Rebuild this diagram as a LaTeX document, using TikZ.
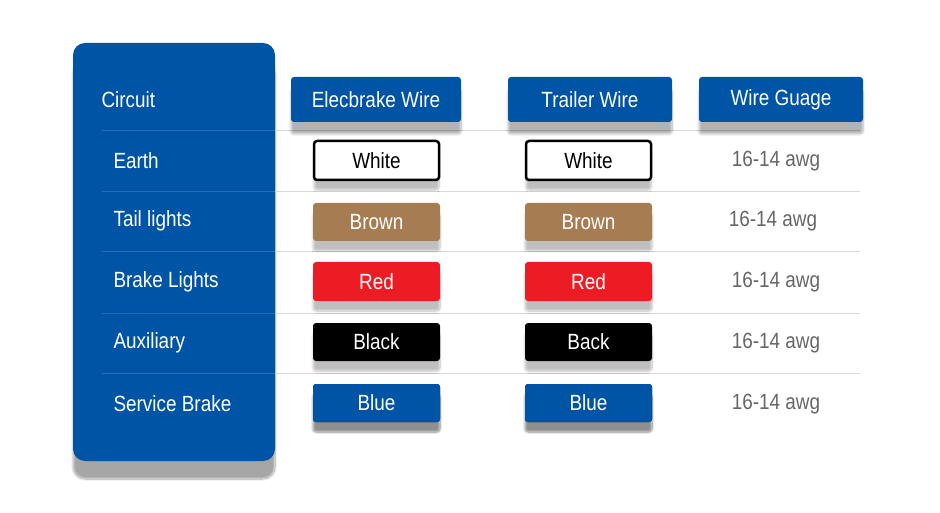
\documentclass[tikz,border=0pt]{standalone}
\usepackage{fontspec}
\setmainfont[FakeStretch=0.86]{Liberation Sans}
\usetikzlibrary{shadows.blur}
\definecolor{pblue}{HTML}{0054A6}
\definecolor{pbrown}{HTML}{A67C52}
\definecolor{pred}{HTML}{ED1C24}
\definecolor{sepblue}{HTML}{1F6FC0}
\begin{document}
\begin{tikzpicture}[x=1pt,y=-1pt,
  hdr/.style={fill=pblue,rounded corners=3pt,text=white,font=\fontsize{22}{24}\selectfont,blur shadow={shadow xshift=0pt,shadow yshift=-12pt,shadow blur steps=8,shadow opacity=30}},
  cell/.style={rounded corners=3pt,minimum width=127pt,font=\fontsize{22}{24}\selectfont,blur shadow={shadow xshift=0pt,shadow yshift=-10pt,shadow blur steps=8,shadow opacity=25}},
  lbl/.style={anchor=west,text=white,font=\fontsize{22}{24}\selectfont},
  awg/.style={text=black!60,font=\fontsize{22}{24}\selectfont},
  sep/.style={line width=1pt}]
\useasboundingbox (0,0) rectangle (940,513);
\fill[pblue,rounded corners=12pt,blur shadow={shadow xshift=0pt,shadow yshift=-18pt,shadow blur steps=10,shadow opacity=35}] (73,43) rectangle (275,461);
\foreach \y in {131,192,252,313,373}{
  \draw[sep,sepblue] (102,\y) -- (275,\y);
  \draw[sep,black!15] (275,\y) -- (860,\y);
}
\node[lbl] (c0) at (98,100) {Circuit};
\node[lbl] (c1) at (110,161) {Earth};
\node[lbl] (c2) at (110,221) {Tail lights};
\node[lbl] (c3) at (110,282) {Brake Lights};
\node[lbl] (c4) at (110,343) {Auxiliary};
\node[lbl] (c5) at (110,404) {Service Brake};
\node[hdr,minimum width=170pt,minimum height=45pt] (h1) at (376,99.5) {Elecbrake Wire};
\node[hdr,minimum width=164pt,minimum height=45pt] (h2) at (590,99.5) {Trailer Wire};
\node[hdr,minimum width=164pt,minimum height=45pt] (h3) at (781,99.5) {Wire Guage};
\foreach \c/\x in {a/376.5,b/588.5}{
  \node[cell,fill=white,draw=black,line width=2.5pt,minimum width=125pt,minimum height=39pt] (\c1) at (\x,160.5) {White};
  \node[cell,fill=pbrown,text=white,minimum height=38pt] (\c2) at (\x,222) {Brown};
  \node[cell,fill=pred,text=white,minimum height=39pt] (\c3) at (\x,281.5) {Red};
  \node[cell,fill=black,text=white,minimum height=38pt] (\c5) at (\x,403) {Blue};
}
\node[cell,fill=black,text=white,minimum height=38pt] (a4) at (376.5,342) {Black};
\node[cell,fill=black,text=white,minimum height=38pt] (b4) at (588.5,342) {Back};
\node[cell,fill=pblue,text=white,minimum height=38pt] (a5) at (376.5,403) {Blue};
\node[cell,fill=pblue,text=white,minimum height=38pt] (b5) at (588.5,403) {Blue};
\node[awg] (g1) at (776,161) {16-14 awg};
\node[awg] (g2) at (773,221) {16-14 awg};
\node[awg] (g3) at (776,282) {16-14 awg};
\node[awg] (g4) at (776,343) {16-14 awg};
\node[awg] (g5) at (776,404) {16-14 awg};
\end{tikzpicture}
\end{document}
